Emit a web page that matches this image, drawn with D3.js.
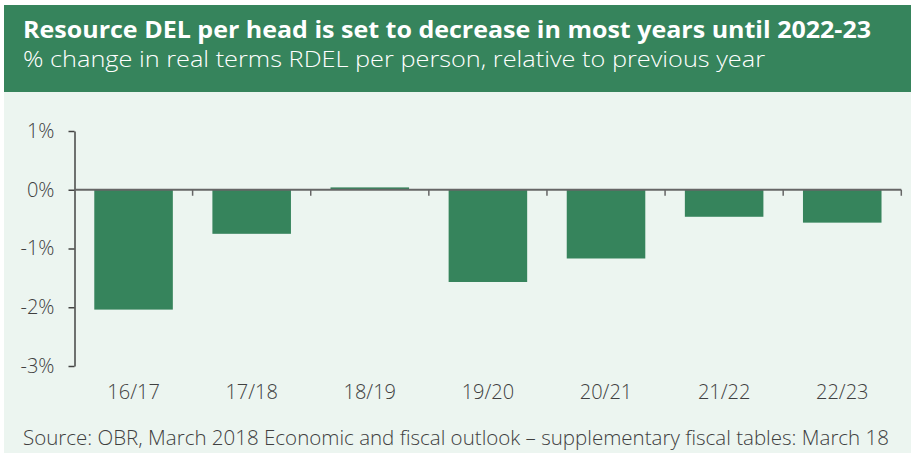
<!DOCTYPE html>
<html><head><meta charset="utf-8">
<script src="https://cdn.jsdelivr.net/npm/d3@7"></script>
<style>
body{margin:0;background:#fff;}
svg{display:block;font-family:"Open Sans",sans-serif;}
</style></head>
<body><svg id="c" width="911" height="453"></svg>
<script>
const categories = ["16/17","17/18","18/19","19/20","20/21","21/22","22/23"];
const values = [-2.04, -0.75, 0.04, -1.57, -1.17, -0.46, -0.56];
const yTicks = [1, 0, -1, -2, -3];
const title = "Resource DEL per head is set to decrease in most years until 2022-23";
const subtitle = "% change in real terms RDEL per person, relative to previous year";
const source = "Source: OBR, March 2018 Economic and fiscal outlook \u2013 supplementary fiscal tables: March 18";

const svg = d3.select("#c");
const green = "#36845c";
const light = 300;

svg.append("rect").attr("x",4).attr("y",92).attr("width",907).attr("height",361).attr("fill","#ecf5f0");
svg.append("rect").attr("x",4).attr("y",5).attr("width",907).attr("height",87).attr("fill",green);

function fitText(sel, w){ sel.attr("textLength", w).attr("lengthAdjust","spacingAndGlyphs"); }

fitText(svg.append("text").attr("x",23).attr("y",37.5).attr("fill","#fff")
  .attr("font-size",23).attr("font-weight",700).text(title), 848);
fitText(svg.append("text").attr("x",23).attr("y",67).attr("fill","#fff")
  .attr("font-size",21.5).attr("font-weight",light).text(subtitle), 742);

const x = d3.scaleBand().domain(categories).range([74.5, 901.3]).paddingInner(0.335).paddingOuter(0.1675);
const y = d3.scaleLinear().domain([-3, 1]).range([366, 131]);

// bars
svg.append("g").selectAll("rect").data(values).join("rect")
  .attr("x",(d,i)=>x(categories[i]))
  .attr("width",x.bandwidth())
  .attr("y",d=>y(Math.max(0,d)))
  .attr("height",d=>Math.abs(y(d)-y(0)))
  .attr("fill",green);

// y axis
const yAxis = svg.append("g").attr("transform","translate(74.5,0)")
  .call(d3.axisLeft(y).tickValues(yTicks).tickFormat(d=>d+"%").tickSize(6).tickSizeOuter(0).tickPadding(14));
yAxis.select(".domain").attr("stroke","#444").attr("stroke-width",1.5);
yAxis.selectAll(".tick line").attr("stroke","#444").attr("stroke-width",1.5);
yAxis.selectAll(".tick text").attr("font-size",20).attr("fill","#404040")
  .attr("font-family","Open Sans").attr("font-weight",light);

// zero line with boundary ticks
const zy = y(0);
svg.append("line").attr("x1",74.5).attr("x2",901.3).attr("y1",zy).attr("y2",zy)
  .attr("stroke","#666").attr("stroke-width",2);
const step = x.step();
const bounds = d3.range(1, categories.length+1).map(i => x.range()[0] + i*step);
svg.append("g").selectAll("line").data(bounds).join("line")
  .attr("x1",d=>d).attr("x2",d=>d).attr("y1",zy).attr("y2",zy+6)
  .attr("stroke","#666").attr("stroke-width",1.5);

// x labels
svg.append("g").selectAll("text").data(categories).join("text")
  .attr("x",d=>x(d)+x.bandwidth()/2).attr("y",399)
  .attr("text-anchor","middle").attr("font-size",20).attr("font-weight",light)
  .attr("fill","#404040").text(d=>d);

fitText(svg.append("text").attr("x",23).attr("y",445).attr("fill","#404040")
  .attr("font-size",20).attr("font-weight",light).text(source), 866);
</script></body></html>
